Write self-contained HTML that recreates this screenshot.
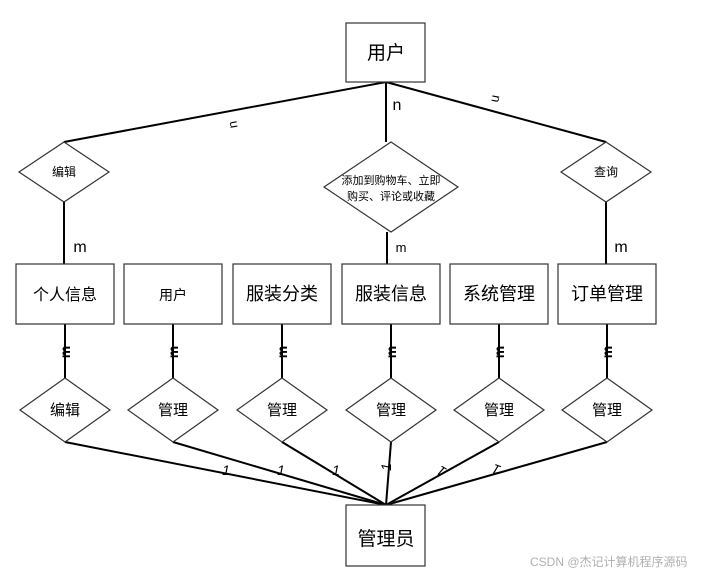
<!DOCTYPE html>
<html><head><meta charset="utf-8"><style>
body{margin:0;background:#fff}
text{font-family:"Liberation Sans","Noto Sans CJK SC",sans-serif;fill:#000}
</style></head><body>
<svg width="711" height="575" xmlns="http://www.w3.org/2000/svg">
<g stroke="#000" stroke-width="2" fill="none">
<line x1="386" y1="82" x2="64" y2="142"/>
<line x1="386" y1="82" x2="386" y2="142"/>
<line x1="386" y1="82" x2="606" y2="142"/>
<line x1="64" y1="202" x2="64" y2="264"/>
<line x1="387" y1="232" x2="387" y2="264"/>
<line x1="606" y1="202" x2="606" y2="264"/>
<line x1="65" y1="324" x2="65" y2="378"/>
<line x1="173" y1="324" x2="173" y2="378"/>
<line x1="282" y1="324" x2="282" y2="378"/>
<line x1="391" y1="324" x2="391" y2="378"/>
<line x1="499" y1="324" x2="499" y2="378"/>
<line x1="607" y1="324" x2="607" y2="378"/>
<line x1="65" y1="442" x2="386" y2="505"/>
<line x1="173" y1="442" x2="386" y2="505"/>
<line x1="282" y1="442" x2="386" y2="505"/>
<line x1="391" y1="442" x2="386" y2="505"/>
<line x1="499" y1="442" x2="386" y2="505"/>
<line x1="607" y1="442" x2="386" y2="505"/>
</g>
<g stroke="#333" stroke-width="1.2" fill="#fff">
<rect x="346" y="23" width="79" height="59"/>
<rect x="346" y="505" width="79" height="61"/>
<rect x="16" y="264" width="98" height="60"/>
<rect x="124" y="264" width="98" height="60"/>
<rect x="233" y="264" width="98" height="60"/>
<rect x="342" y="264" width="98" height="60"/>
<rect x="450" y="264" width="98" height="60"/>
<rect x="558" y="264" width="98" height="60"/>
<polygon points="64,142 109,172 64,202 19,172"/>
<polygon points="606,142 651,172 606,202 561,172"/>
<polygon points="391,142 458,187 391,232 324,187"/>
<polygon points="65,378 110,410 65,442 20,410"/>
<polygon points="173,378 218,410 173,442 128,410"/>
<polygon points="282,378 327,410 282,442 237,410"/>
<polygon points="391,378 436,410 391,442 346,410"/>
<polygon points="499,378 544,410 499,442 454,410"/>
<polygon points="607,378 652,410 607,442 562,410"/>
</g>
<g text-anchor="middle">
<text x="386" y="59" font-size="19">用户</text>
<text x="386" y="545" font-size="19">管理员</text>
<text x="65" y="300" font-size="16">个人信息</text>
<text x="173" y="300" font-size="14">用户</text>
<text x="282" y="300" font-size="18">服装分类</text>
<text x="391" y="300" font-size="18">服装信息</text>
<text x="499" y="300" font-size="18">系统管理</text>
<text x="607" y="300" font-size="18">订单管理</text>
<text x="64" y="176" font-size="12">编辑</text>
<text x="606" y="176" font-size="12">查询</text>
<text x="391" y="184" font-size="11">添加到购物车、立即</text>
<text x="391" y="200" font-size="11">购买、评论或收藏</text>
<text x="65" y="415" font-size="15">编辑</text>
<text x="173" y="415" font-size="15">管理</text>
<text x="282" y="415" font-size="15">管理</text>
<text x="391" y="415" font-size="15">管理</text>
<text x="499" y="415" font-size="15">管理</text>
<text x="607" y="415" font-size="15">管理</text>
<text x="397" y="110" font-size="16">n</text>
<text x="80" y="252" font-size="16">m</text>
<text x="621" y="252" font-size="16">m</text>
<text x="401" y="252" font-size="13">m</text>
<text x="0" y="0" font-size="13" transform="translate(237,124) rotate(-100)">n</text>
<text x="0" y="0" font-size="13" transform="translate(492,98) rotate(100)">n</text>
<g font-size="14" font-weight="bold">
<text transform="translate(70,352) rotate(-90)">m</text>
<text transform="translate(178,352) rotate(-90)">m</text>
<text transform="translate(287,352) rotate(-90)">m</text>
<text transform="translate(396,352) rotate(-90)">m</text>
<text transform="translate(504,352) rotate(-90)">m</text>
<text transform="translate(612,352) rotate(-90)">m</text>
</g>
<g font-size="14" font-style="italic">
<text x="226" y="475">1</text>
<text x="281" y="475">1</text>
<text x="336" y="475">1</text>
<text transform="translate(391,467) rotate(-90)">1</text>
<text transform="translate(444,467) rotate(-150)">1</text>
<text transform="translate(498,465) rotate(-160)">1</text>
</g>
</g>
<text x="530" y="566" font-size="12" style="fill:#b0b0b0">CSDN @杰记计算机程序源码</text>
</svg>
</body></html>
